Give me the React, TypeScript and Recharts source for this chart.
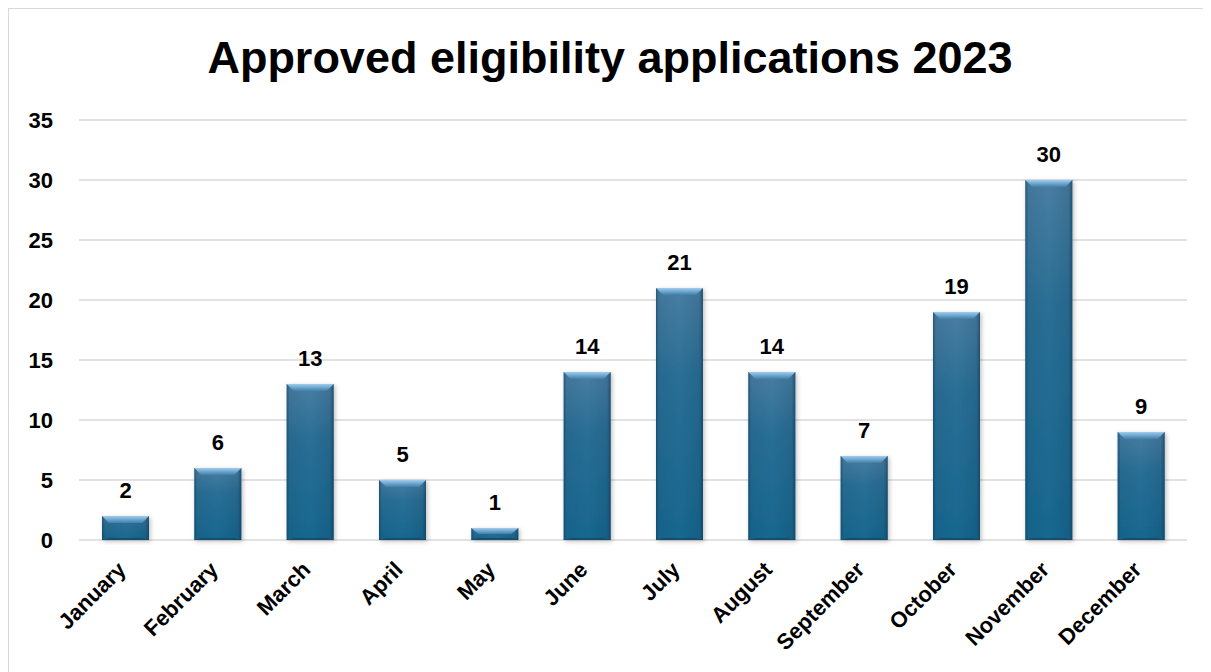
import { BarChart, Bar, XAxis, YAxis, CartesianGrid, LabelList } from 'recharts';

const months = ['January', 'February', 'March', 'April', 'May', 'June', 'July', 'August', 'September', 'October', 'November', 'December'];
const approved = [2, 6, 13, 5, 1, 14, 21, 14, 7, 19, 30, 9];
const yTicks = [0, 5, 10, 15, 20, 25, 30, 35];

const data = months.map((m, i) => ({ month: m, value: approved[i] }));

const FONT = '"Liberation Sans", Arial, sans-serif';

// barre avec un effet biseauté façon Excel
const BevelBar = (props: any) => {
  const { x, y, width: w, height: h } = props;
  if (!h || h <= 0) return null;
  const b = Math.min(7, h / 2);
  const s = Math.min(7, w / 4);
  return (
    <g filter="url(#barShadow)">
      <rect x={x} y={y} width={w} height={h} fill="url(#barBody)" />
      <rect x={x} y={y} width={w} height={h} fill="url(#barEdges)" />
      <polygon
        points={`${x},${y} ${x + w},${y} ${x + w - s},${y + b} ${x + s},${y + b}`}
        fill="url(#barTop)"
      />
      <polygon
        points={`${x},${y + h} ${x + s},${y + h - Math.min(2, b)} ${x + w - s},${y + h - Math.min(2, b)} ${x + w},${y + h}`}
        fill="#123f5a"
        opacity={0.6}
      />
    </g>
  );
};

// étiquettes des mois inclinées à -45°
const MonthTick = (props: any) => {
  const { x, y, payload } = props;
  return (
    <g transform={`translate(${x + 2},${y + 19})`}>
      <text
        textAnchor="end"
        transform="rotate(-45)"
        fill="#000"
        fontSize={22}
        fontWeight="bold"
        fontFamily={FONT}
      >
        {payload.value}
      </text>
    </g>
  );
};

export default function App() {
  return (
    <div
      style={{
        position: 'relative',
        width: 1202,
        height: 663,
        borderLeft: '1px solid #d9d9d9',
        borderTop: '1px solid #d9d9d9',
        fontFamily: FONT,
        background: '#fff',
        overflow: 'hidden',
      }}
    >
      <div
        style={{
          position: 'absolute',
          left: 0,
          top: 26,
          width: 1202,
          textAlign: 'center',
          fontSize: 45,
          lineHeight: '45px',
          fontWeight: 'bold',
          color: '#000',
        }}
      >
        Approved eligibility applications 2023
      </div>
      <BarChart
        width={1202}
        height={663}
        data={data}
        margin={{ top: 111, right: 24, left: 0, bottom: 32 }}
        style={{ position: 'absolute', left: 0, top: 0 }}
      >
        <defs>
          <linearGradient id="barBody" x1="0" y1="0" x2="0" y2="1">
            <stop offset="0%" stopColor="#4a7ea2" />
            <stop offset="35%" stopColor="#2a6f96" />
            <stop offset="100%" stopColor="#17678f" />
          </linearGradient>
          <linearGradient id="barEdges" x1="0" y1="0" x2="1" y2="0">
            <stop offset="0%" stopColor="#0e3550" stopOpacity={0.55} />
            <stop offset="6%" stopColor="#0e3550" stopOpacity={0.1} />
            <stop offset="50%" stopColor="#0e3550" stopOpacity={0} />
            <stop offset="92%" stopColor="#0e3550" stopOpacity={0.15} />
            <stop offset="100%" stopColor="#0e3550" stopOpacity={0.6} />
          </linearGradient>
          <linearGradient id="barTop" x1="0" y1="0" x2="0" y2="1">
            <stop offset="0%" stopColor="#9fcdee" />
            <stop offset="100%" stopColor="#3f7fab" />
          </linearGradient>
          <filter id="barShadow" x="-20%" y="-20%" width="140%" height="140%">
            <feDropShadow dx="1.5" dy="1.5" stdDeviation="2" floodColor="#000" floodOpacity={0.25} />
          </filter>
        </defs>
        <CartesianGrid vertical={false} stroke="#d9d9d9" strokeWidth={1.5} />
        <XAxis
          dataKey="month"
          axisLine={false}
          tickLine={false}
          interval={0}
          height={100}
          tickMargin={6}
          tick={<MonthTick />}
        />
        <YAxis
          domain={[0, 35]}
          ticks={yTicks}
          width={70}
          axisLine={false}
          tickLine={false}
          tickMargin={20}
          tick={{ fill: '#000', fontSize: 22, fontWeight: 'bold', fontFamily: FONT }}
        />
        <Bar dataKey="value" barSize={47} shape={BevelBar} isAnimationActive={false}>
          <LabelList
            dataKey="value"
            position="top"
            offset={18}
            fill="#000"
            fontSize={22}
            fontWeight="bold"
            fontFamily={FONT}
          />
        </Bar>
      </BarChart>
    </div>
  );
}
